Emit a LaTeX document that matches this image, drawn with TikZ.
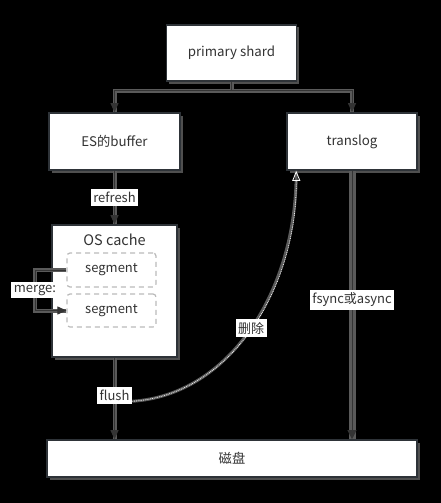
\documentclass[tikz,border=0pt]{standalone}
\usepackage{fontspec}
\setmainfont{Noto Sans CJK SC}
\usetikzlibrary{arrows.meta,calc}
\definecolor{txt}{HTML}{333333}
\definecolor{bord}{HTML}{2E3338}
\definecolor{shad}{HTML}{4F4F4F}
\definecolor{lnbg}{HTML}{5A5A5A}
\definecolor{lnfg}{HTML}{343434}
\definecolor{dashc}{HTML}{BBBBBB}
\tikzset{
  box/.style={draw=bord, line width=1.6pt, fill=white, text=txt, inner sep=0pt,
    font=\fontsize{13.3}{15}\selectfont,
    preaction={fill=shad, transform canvas={xshift=2.5pt,yshift=-2.5pt}}},
  segbox/.style={draw=dashc, dashed, dash pattern=on 5pt off 4pt, line width=1.2pt, rounded corners=3pt,
    fill=white, text=txt, inner sep=0pt, minimum width=89pt, font=\fontsize{13}{15}\selectfont},
  lbl/.style={fill=white, text=txt, inner xsep=2.5pt, inner ysep=3pt, font=\fontsize{13}{15}\selectfont},
  conn/.style={draw=lnfg, line width=1pt, -{Triangle[width=8pt,length=9pt]},
    preaction={draw=lnbg, line width=4pt, -}},
  thickconn/.style={draw=lnfg, line width=1pt, -{Triangle[width=9pt,length=9pt]},
    preaction={draw=lnbg, line width=7pt, -}},
  curveconn/.style={draw=white, line width=0.8pt, densely dotted, -{Triangle[width=8pt,length=10pt,open]},
    preaction={draw=lnbg, line width=3pt, solid, -}},
}
\begin{document}
\begin{tikzpicture}[x=1pt,y=-1pt]
\fill[black] (0,0) rectangle (441,503);
\useasboundingbox (0,0) rectangle (441,503);

\node[box, minimum width=130pt, minimum height=56pt] (ps) at (231.5,53) {primary shard};
\node[box, minimum width=131pt, minimum height=57pt] (buf) at (114.5,141.5) {ES的buffer};
\node[box, minimum width=130pt, minimum height=57pt] (tl) at (352,141.5) {translog};
\node[box, minimum width=125pt, minimum height=132pt] (os) at (114.5,291) {};
\node[text=txt, font=\fontsize{14.5}{16}\selectfont] (ostitle) at (114.5,240) {OS cache};
\node[segbox, minimum height=34pt] (s1) at (111.5,270) {segment};
\node[segbox, minimum height=33pt] (s2) at (111.5,310.5) {segment};
\node[box, minimum width=370pt, minimum height=37pt] (disk) at (232,458.5) {磁盘};

% primary shard -> buffer / translog
\coordinate (split) at ($(ps.south)+(0,9)$);
\draw[conn] (ps.south) -- (split) -| (buf.north);
\draw[conn] (split) -| (tl.north);

% refresh
\draw[conn] (buf.south) -- node[lbl] (refresh) {refresh} (os.north);

% merge
\coordinate (mleft) at (35,270);
\draw[conn] (s1.west) -- (mleft) |- node[lbl, pos=0.25] (merge) {merge:} (s2.west);

% flush
\draw[conn] (os.south) -- node[lbl, pos=0.46] (flush) {flush} (os.south |- disk.north);

% translog -> disk
\draw[thickconn] (tl.south) -- node[lbl, pos=0.48] (fsync) {fsync或async} (tl.south |- disk.north);

% delete curve
\coordinate (tlin) at ([xshift=10pt]tl.south west);
\draw[curveconn] ([yshift=-6pt]flush.east) .. controls (230,395) and (297,290) .. (tlin)
  node[lbl, pos=0.5] (del) {删除};
\end{tikzpicture}
\end{document}
